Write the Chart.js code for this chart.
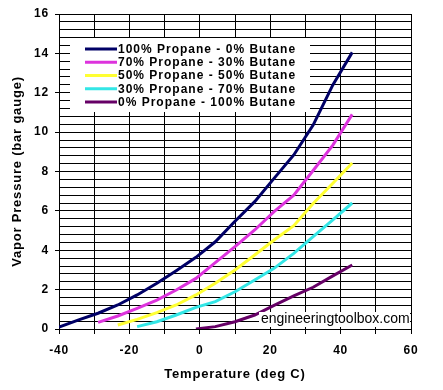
<!DOCTYPE html>
<html lang="en">
<head>
    <meta charset="UTF-8">
    <title>Vapor Pressure of Propane / Butane Mixtures</title>
    <script src="https://cdn.jsdelivr.net/npm/chart.js"></script>
    <style>
        body { margin: 0; background: #fff; }
        .chart-container { width: 443px; height: 390px; position: relative; }
    </style>
</head>
<body>
    <div class="chart-container">
        <canvas id="vaporChart"></canvas>
    </div>

    <script>
        // Temperatures (deg C) - the source data is every 10 deg F
        const temps = [-40, -34.4, -28.9, -23.3, -17.8, -12.2, -6.7, -1.1, 4.4, 10, 15.6, 21.1, 26.7, 32.2, 37.8, 43.3];

        // Vapor pressure (bar gauge)
        const propane100 = [0.1, 0.46, 0.8, 1.22, 1.73, 2.32, 2.96, 3.64, 4.43, 5.47, 6.47, 7.65, 8.84, 10.36, 12.4, 14.05];
        const propane70  = [null, null, 0.34, 0.66, 1.05, 1.47, 1.98, 2.57, 3.37, 4.18, 5.03, 5.96, 6.8, 8.05, 9.34, 10.9];
        const propane50  = [null, null, null, 0.2, 0.49, 0.83, 1.22, 1.73, 2.32, 3.0, 3.76, 4.52, 5.25, 6.38, 7.4, 8.43];
        const propane30  = [null, null, null, null, 0.12, 0.37, 0.71, 1.1, 1.39, 1.89, 2.49, 3.08, 3.84, 4.69, 5.54, 6.4];
        const butane100  = [null, null, null, null, null, null, null, 0.0, 0.12, 0.37, 0.71, 1.2, 1.68, 2.12, 2.7, 3.25];

        const seriesLabels = [
            '100% Propane - 0% Butane',
            '70% Propane - 30% Butane',
            '50% Propane - 50% Butane',
            '30% Propane - 70% Butane',
            '0% Propane - 100% Butane'
        ];
        const seriesColors = ['#000066', '#dd33dd', '#ffff33', '#33e6e6', '#660066'];
        const seriesValues = [propane100, propane70, propane50, propane30, butane100];

        const FONT = "Arial, 'Liberation Sans', sans-serif";

        function toPoints(values) {
            const pts = [];
            values.forEach((v, i) => {
                if (v !== null) pts.push({ x: temps[i], y: v });
            });
            return pts;
        }

        function isMajor(v) {
            return Math.abs(v / 2 - Math.round(v / 2)) < 1e-6;
        }

        // the Excel original has rather wide letter spacing
        const spacingPlugin = {
            id: 'spacing',
            beforeDraw(chart) {
                chart.ctx.letterSpacing = '0.8px';
            }
        };

        // legend box + watermark drawn on top of the plot
        const overlayPlugin = {
            id: 'overlay',
            afterDatasetsDraw(chart) {
                const ctx = chart.ctx;
                ctx.save();
                // legend
                ctx.fillStyle = '#fff';
                ctx.fillRect(70, 38, 240, 74);
                ctx.font = 'bold 12px ' + FONT;
                ctx.letterSpacing = '1px';
                ctx.textBaseline = 'middle';
                seriesLabels.forEach((label, i) => {
                    const y = 49 + i * 13.25;
                    ctx.strokeStyle = seriesColors[i];
                    ctx.lineWidth = 3;
                    ctx.beginPath();
                    ctx.moveTo(85, y);
                    ctx.lineTo(117, y);
                    ctx.stroke();
                    ctx.fillStyle = '#000';
                    ctx.fillText(label, 118, y + 0.5);
                });
                // watermark
                ctx.letterSpacing = '0px';
                ctx.fillStyle = '#fff';
                ctx.fillRect(259, 312, 151, 15);
                ctx.fillStyle = '#000';
                ctx.font = '14px ' + FONT;
                ctx.fillText('engineeringtoolbox.com', 261, 319.5);
                ctx.restore();
            }
        };

        const ctx = document.getElementById('vaporChart').getContext('2d');
        const vaporChart = new Chart(ctx, {
            type: 'line',
            data: {
                datasets: seriesValues.map((vals, i) => ({
                    label: seriesLabels[i],
                    data: toPoints(vals),
                    borderColor: seriesColors[i],
                    backgroundColor: seriesColors[i],
                    borderWidth: 3,
                    pointRadius: 0,
                    tension: 0,
                    fill: false
                }))
            },
            options: {
                responsive: true,
                maintainAspectRatio: false,
                animation: false,
                layout: { padding: { left: 0, top: 14, right: 32, bottom: 0 } },
                scales: {
                    x: {
                        type: 'linear',
                        min: -40,
                        max: 60,
                        afterFit: (scale) => { scale.height = 61; },
                        ticks: {
                            stepSize: 10,
                            padding: 9,
                            color: '#000',
                            font: { family: FONT, size: 12, weight: 'bold' },
                            callback: (v) => (v % 20 === 0 ? v : '')
                        },
                        grid: { color: '#000', lineWidth: 1, tickLength: 5, tickColor: '#000' },
                        border: { color: '#000', width: 1 },
                        title: {
                            display: true,
                            text: 'Temperature (deg C)',
                            color: '#000',
                            font: { family: FONT, size: 13, weight: 'bold', lineHeight: 1.2 },
                            padding: { top: 0, bottom: 8 }
                        }
                    },
                    y: {
                        min: 0,
                        max: 16,
                        afterFit: (scale) => { scale.width = 59; },
                        ticks: {
                            stepSize: 0.4,
                            autoSkip: false,
                            padding: 6,
                            color: '#000',
                            font: { family: FONT, size: 12, weight: 'bold' },
                            callback: (v) => (isMajor(v) ? Math.round(v) : '')
                        },
                        grid: {
                            color: '#000',
                            lineWidth: 1,
                            tickLength: 4,
                            tickColor: (c) => (c.tick && isMajor(c.tick.value) ? '#000' : 'rgba(0,0,0,0)')
                        },
                        border: { color: '#000', width: 1 },
                        title: {
                            display: true,
                            text: 'Vapor Pressure (bar gauge)',
                            color: '#000',
                            font: { family: FONT, size: 13, weight: 'bold', lineHeight: 1.2 },
                            padding: { top: 10, bottom: 0 }
                        }
                    }
                },
                plugins: {
                    legend: { display: false },
                    tooltip: { enabled: false }
                }
            },
            plugins: [spacingPlugin, overlayPlugin]
        });
    </script>
</body>
</html>
